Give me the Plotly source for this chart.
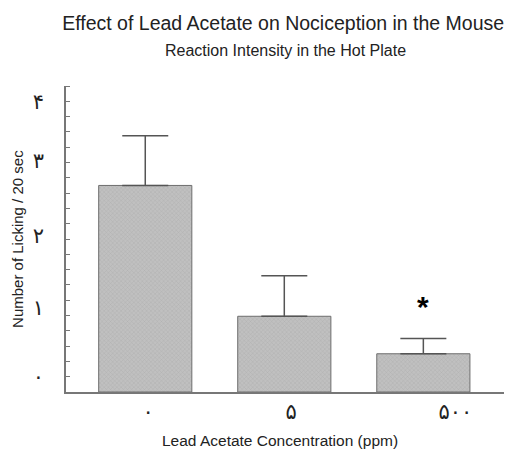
import plotly.graph_objects as go

# data
groups = [0, 1, 2]
means = [2.70, 0.99, 0.50]
sem_up = [0.65, 0.53, 0.20]

x_tick_pos = [0.02, 1.05, 2.23]
x_tick_text = ['۰', '۵', '۵۰۰']
y_tick_pos = [0.20, 1.10, 2.05, 3.02, 3.80]
y_tick_text = ['۰', '۱', '۲', '۳', '۴']

star_x = 2
star_y = 1.12

font = 'Liberation Sans, DejaVu Sans, Arial, sans-serif'

fig = go.Figure()
fig.add_trace(go.Bar(
    x=groups, y=means, width=0.67,
    marker=dict(color='#bdbdbd',
                line=dict(color='#6e6e6e', width=1),
                pattern=dict(shape='x', size=3, solidity=0.25,
                             fgcolor='#999999', bgcolor='#c0c0c0')),
    error_y=dict(type='data', symmetric=False, array=sem_up,
                 arrayminus=[0, 0, 0], color='#555555', thickness=1.5, width=23),
    showlegend=False,
))

fig.add_annotation(x=star_x, y=star_y, text='<b>*</b>', showarrow=False,
                   font=dict(size=30, color='black', family=font), yanchor='middle')

# subtitle and axis titles placed by hand
fig.add_annotation(x=0.50, y=1.115, xref='paper', yref='paper',
                   text='Reaction Intensity in the Hot Plate',
                   showarrow=False, font=dict(size=16, color='#222222', family=font),
                   xanchor='center', yanchor='middle')
fig.add_annotation(x=0.489, y=-0.157, xref='paper', yref='paper',
                   text='Lead Acetate Concentration (ppm)',
                   showarrow=False, font=dict(size=15.5, color='#222222', family=font),
                   xanchor='center', yanchor='middle')
fig.add_annotation(x=-0.112, y=0.50, xref='paper', yref='paper',
                   text='Number of Licking / 20 sec', textangle=-90,
                   showarrow=False, font=dict(size=15, color='#222222', family=font),
                   xanchor='center', yanchor='middle')

fig.update_layout(
    width=504, height=442,
    margin=dict(l=58, r=8, t=78, b=58),
    paper_bgcolor='white', plot_bgcolor='white',
    font=dict(family=font, color='#222222'),
    title=dict(text='Effect of Lead Acetate on Nociception in the Mouse',
               x=0.546, xanchor='center', y=1 - 15 / 442, yanchor='middle',
               font=dict(size=19.5, color='#222222')),
)

fig.update_xaxes(range=[-0.57, 2.58], showgrid=False, zeroline=False,
                 showline=True, linecolor='#777777', linewidth=1.5,
                 tickvals=x_tick_pos, ticktext=x_tick_text, ticks='',
                 automargin=False,
                 tickfont=dict(size=21, color='#222222', family='DejaVu Sans'))

fig.update_yaxes(range=[0, 4], showgrid=False, zeroline=False,
                 showline=True, linecolor='#777777', linewidth=1.5,
                 tickvals=y_tick_pos, ticktext=y_tick_text, ticks='',
                 ticklabelstandoff=16, automargin=False,
                 tickfont=dict(size=21, color='#222222', family='DejaVu Sans'),
                 minor=dict(ticks='inside', tick0=0, dtick=0.2, ticklen=4,
                            tickcolor='#777777', tickwidth=1.2))

fig.write_html('out.html')
